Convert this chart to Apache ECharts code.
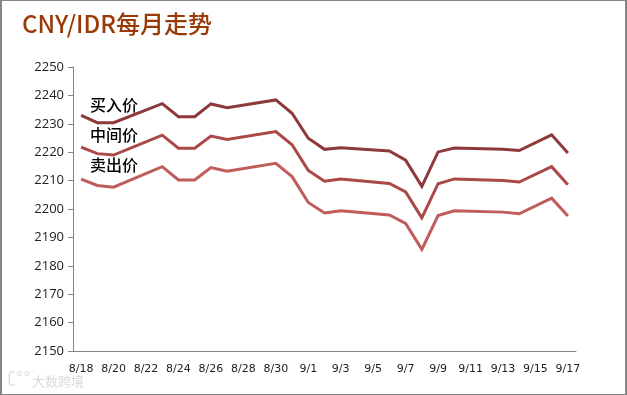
<!DOCTYPE html>
<html>
<head>
    <meta charset="utf-8">
    <style>
        html, body {
            width: 100%;
            height: 100%;
            margin: 0;
        }

        #chart-panel {
            width: 627px;
            height: 395px;
            box-sizing: border-box;
            border: 1px solid #858585;
            border-width: 1px 2px 1px 2px;
        }
    </style>
    <script src="https://cdnjs.cloudflare.com/ajax/libs/echarts/6.0.0/echarts.min.js"></script>
</head>
<body>
<div id="chart-panel"></div>
<script type="text/javascript">
  // null = no quote that day (weekends etc), the line just runs across
  var dates = ['8/18', '8/19', '8/20', '8/21', '8/22', '8/23', '8/24', '8/25', '8/26', '8/27', '8/28',
    '8/29', '8/30', '8/31', '9/1', '9/2', '9/3', '9/4', '9/5', '9/6', '9/7', '9/8', '9/9', '9/10',
    '9/11', '9/12', '9/13', '9/14', '9/15', '9/16', '9/17']
  var yTicks = [2150, 2250]

  var buyPrice = [2233, 2230.4, 2230.4, null, null, 2237.1, 2232.5, 2232.5, 2237, 2235.7, null,
    null, 2238.4, 2233.7, 2224.9, 2221, 2221.6, null, null, 2220.4, 2217.2, 2208, 2220.1, 2221.5,
    null, null, 2221, 2220.6, null, 2226.1, 2219.7]
  var midPrice = [2221.8, 2219.5, 2219, null, null, 2226, 2221.4, 2221.4, 2225.7, 2224.5, null,
    null, 2227.3, 2222.6, 2213.6, 2209.8, 2210.6, null, null, 2209, 2206, 2196.9, 2208.9, 2210.6,
    null, null, 2210, 2209.5, null, 2214.9, 2208.5]
  var sellPrice = [2210.5, 2208.3, 2207.7, null, null, 2214.9, 2210.2, 2210.2, 2214.6, 2213.3, null,
    null, 2216.1, 2211.4, 2202.3, 2198.6, 2199.4, null, null, 2197.9, 2194.9, 2185.8, 2197.7, 2199.4,
    null, null, 2198.9, 2198.3, null, 2203.8, 2197.5]

  var seriesNames = ['买入价', '中间价', '卖出价']
  var seriesColors = ['#8e3a3a', '#ab4848', '#c05c5c']
  var seriesValues = [buyPrice, midPrice, sellPrice]
  var labelTops = [96, 126, 156]

  var axisColor = '#868686'
  var labelFont = '"Noto Sans CJK SC", sans-serif'

  var myChart = echarts.init(document.getElementById('chart-panel'))

  var labels = seriesNames.map(function (name, i) {
    return {
      type: 'text',
      left: 88,
      top: labelTops[i],
      style: { text: name, font: '500 16px ' + labelFont, fill: '#000' }
    }
  })

  var option = {
    animation: false,
    backgroundColor: '#fff',
    title: {
      text: 'CNY/IDR每月走势',
      left: 15,
      top: 6,
      textStyle: { color: '#993a06', fontSize: 24, fontWeight: 500, fontFamily: labelFont }
    },
    grid: { left: 71, right: 49, top: 66, bottom: 43 },
    xAxis: {
      type: 'category',
      data: dates,
      boundaryGap: true,
      axisLine: { lineStyle: { color: axisColor, width: 1 } },
      axisTick: { interval: 1, length: 5, lineStyle: { color: axisColor } },
      axisLabel: { interval: 1, color: '#222', fontSize: 11, fontFamily: 'DejaVu Sans', margin: 13, hideOverlap: false }
    },
    yAxis: {
      type: 'value',
      min: yTicks[0],
      max: yTicks[1],
      interval: 10,
      axisLine: { show: true, lineStyle: { color: axisColor, width: 1 } },
      axisTick: { show: true, length: 5, lineStyle: { color: axisColor } },
      axisLabel: {
        color: '#222',
        fontSize: 13,
        fontFamily: 'Open Sans',
        margin: 9,
        formatter: function (v) { return String(v) }
      },
      splitLine: { show: false }
    },
    graphic: labels,
    series: seriesNames.map(function (name, i) {
      return {
        name: name,
        type: 'line',
        data: seriesValues[i],
        connectNulls: true,
        showSymbol: false,
        symbol: 'none',
        lineStyle: { color: seriesColors[i], width: 3, join: 'miter' }
      }
    })
  }

  // faint watermark, bottom left
  option.graphic.push({
    type: 'text',
    left: 30,
    top: 374,
    style: { text: '大数跨境', font: '13px ' + labelFont, fill: '#d9d9d9' }
  })
  option.graphic.push({
    type: 'text',
    left: 6,
    top: 371,
    style: { text: 'ʗ°°', font: '15px DejaVu Sans', fill: '#dcdcdc' }
  })

  myChart.setOption(option)
</script>
</body>
</html>
